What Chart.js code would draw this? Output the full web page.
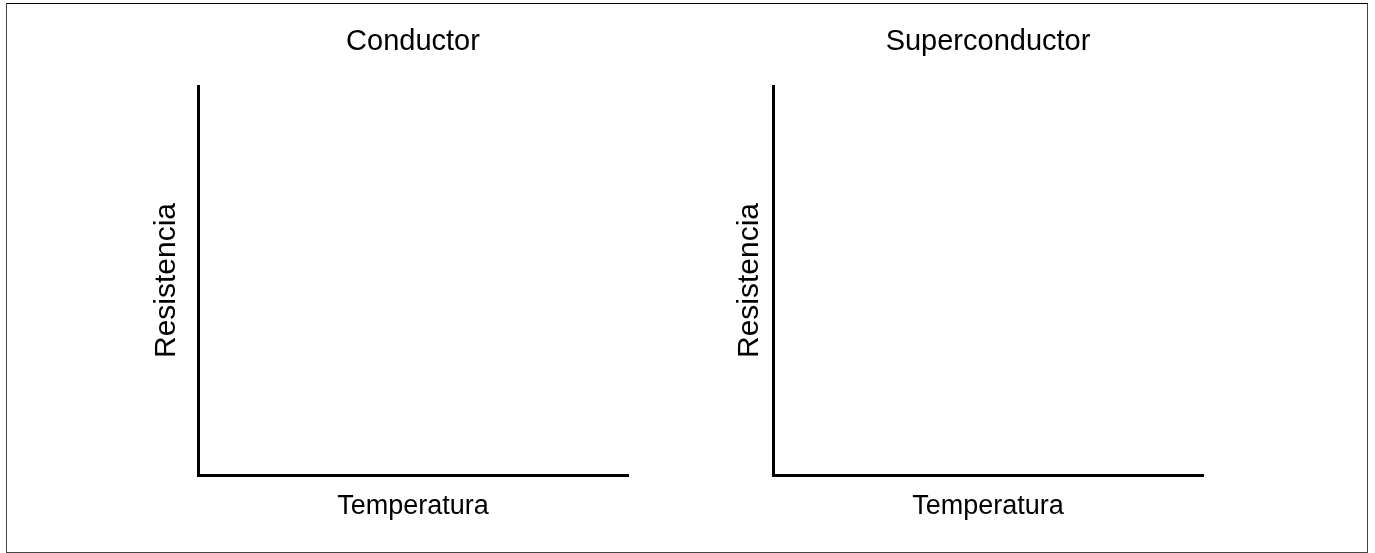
<!DOCTYPE html>
<html>
<head>
<meta charset="utf-8">
<script src="https://cdn.jsdelivr.net/npm/chart.js@4/dist/chart.umd.min.js"></script>
<style>
    body { margin: 0; background: #fff; width: 1375px; height: 553px; position: relative; overflow: hidden; }
    #marco { position: absolute; left: 6px; top: 3px; width: 1362px; height: 550px; box-sizing: border-box; border: 1px solid #444; border-top-color: #000; }
    canvas { position: absolute; top: 0; }
    #graficoConductor { left: 0; }
    #graficoSuperconductor { left: 575px; }
</style>
</head>
<body>
<div id="marco"></div>
<canvas id="graficoConductor" width="650" height="553"></canvas>
<canvas id="graficoSuperconductor" width="650" height="553"></canvas>
<script>
// la figura solo muestra los ejes vacios, sin curvas
const temperaturas = []
const resistenciaConductor = []
const resistenciaSuperconductor = []

const titulos = ['Conductor', 'Superconductor']
const etiquetaX = 'Temperatura'
const etiquetaY = 'Resistencia'

Chart.defaults.font.family = "'Liberation Sans', Arial, sans-serif"
Chart.defaults.color = '#000'

function ejeSinMarcas(titulo, tamano, relleno) {
    return {
        type: 'linear',
        min: 0,
        max: 1,
        ticks: { display: false },
        grid: { display: false, drawTicks: false },
        border: { display: true, color: '#000', width: 3 },
        title: { display: true, text: titulo, font: { size: tamano }, padding: relleno }
    }
}

function graficoVacio(lienzo, titulo, datos, ajuste) {
    return new Chart(lienzo, {
        type: 'line',
        data: {
            labels: temperaturas,
            datasets: [{
                label: titulo,
                data: datos,
                borderColor: '#000',
                borderWidth: 2
            }]
        },
        options: {
            responsive: false,
            animation: false,
            layout: { padding: { left: ajuste.izq, right: 22, top: 0, bottom: 29.8 } },
            plugins: {
                legend: { display: false },
                tooltip: { enabled: false },
                title: {
                    display: true,
                    text: titulo,
                    fullSize: false,
                    font: { size: 29, weight: 'normal' },
                    padding: { top: 24.6, bottom: 26.6 }
                }
            },
            scales: {
                x: ejeSinMarcas(etiquetaX, 27, { top: 15.8, bottom: 0 }),
                y: ejeSinMarcas(etiquetaY, 30, { top: 0, bottom: ajuste.separacionY })
            }
        }
    })
}

graficoVacio(document.getElementById('graficoConductor'), titulos[0], resistenciaConductor, { izq: 148.5, separacionY: 13.5 })
graficoVacio(document.getElementById('graficoSuperconductor'), titulos[1], resistenciaSuperconductor, { izq: 157, separacionY: 5 })
</script>
</body>
</html>
